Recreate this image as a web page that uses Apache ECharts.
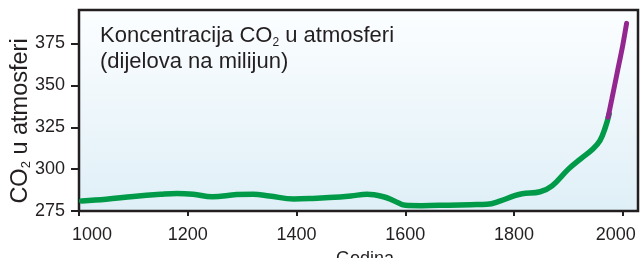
<!DOCTYPE html>
<html>
<head>
<meta charset="utf-8">
<script src="https://cdn.jsdelivr.net/npm/echarts@6/dist/echarts.min.js"></script>
<style>
  html, body { margin: 0; padding: 0; background: #fff; }
  #chart { width: 640px; height: 258px; }
</style>
</head>
<body>
<div id="chart"></div>
<script>
// ice core record (green)
var iceYears = [1005, 1050, 1100, 1150, 1180, 1210, 1245, 1290, 1320, 1350, 1395, 1430, 1460, 1500, 1530, 1560, 1580, 1600, 1630, 1680, 1720, 1750, 1775, 1800, 1815, 1848, 1870, 1900, 1922, 1945, 1958, 1968, 1975]
var iceValues = [281, 282, 283.7, 285, 285.5, 285, 283.5, 284.8, 285, 284, 282.2, 282.5, 283, 284, 285, 283.5, 281, 278.4, 278.2, 278.5, 278.8, 279, 281, 284, 285.3, 286.5, 290, 300, 306, 312, 317, 325, 333]
// direct measurements (purple)
var airYears = [1973, 1980, 1990, 2000, 2007]
var airValues = [331, 342, 358, 374, 387]

var xTicks = [1000, 1200, 1400, 1600, 1800, 2000]
var yTicks = [275, 300, 325, 350, 375]

var textColor = '#231f20'

function pairs (xs, ys) {
  var out = []
  for (var i = 0; i < xs.length; i++) {
    out.push([xs[i], ys[i]])
  }
  return out
}

var chart = echarts.init(document.getElementById('chart'))
chart.setOption({
  animation: false,
  title: {
    text: 'Koncentracija CO{sub|2} u atmosferi\n(dijelova na milijun)',
    left: 95,
    top: 18,
    textStyle: {
      color: textColor,
      fontFamily: 'Liberation Sans',
      fontSize: 22,
      fontWeight: 'normal',
      lineHeight: 26,
      rich: {
        sub: { fontSize: 12, lineHeight: 12, verticalAlign: 'bottom', color: textColor, fontFamily: 'Liberation Sans' }
      }
    }
  },
  grid: {
    left: 79,
    right: 2,
    top: 10,
    bottom: 47,
    outerBoundsMode: 'none',
    containLabel: false,
    show: true,
    borderColor: textColor,
    borderWidth: 2.5,
    backgroundColor: {
      type: 'linear', x: 0, y: 0, x2: 0, y2: 1,
      colorStops: [
        { offset: 0, color: '#fcfeff' },
        { offset: 1, color: '#dfeff7' }
      ]
    }
  },
  xAxis: {
    type: 'value',
    min: 1000,
    max: 2028,
    name: 'Godina',
    nameLocation: 'middle',
    nameGap: 39,
    nameTextStyle: {
      color: textColor,
      fontFamily: 'Liberation Sans',
      fontSize: 18,
      padding: [0, 0, 0, 13]
    },
    axisLine: { show: false },
    splitLine: { show: false },
    axisTick: {
      show: true,
      length: 5,
      customValues: xTicks,
      lineStyle: { color: textColor, width: 2 }
    },
    axisLabel: {
      customValues: xTicks,
      margin: 15,
      color: textColor,
      fontFamily: 'Liberation Sans',
      fontSize: 18,
      formatter: function (v) {
        if (v === 1000) return '{first|' + v + '}'
        if (v === 2000) return '{last|' + v + '}'
        return String(v)
      },
      rich: {
        first: { padding: [0, 0, 0, 26], fontSize: 18, color: textColor, fontFamily: 'Liberation Sans' },
        last: { padding: [0, 14, 0, 0], fontSize: 18, color: textColor, fontFamily: 'Liberation Sans' }
      }
    }
  },
  yAxis: {
    type: 'value',
    min: 275,
    max: 395,
    name: 'CO{sub|2} u atmosferi',
    nameLocation: 'middle',
    nameGap: 46,
    nameMoveOverlap: false,
    nameTextStyle: {
      color: textColor,
      fontFamily: 'Liberation Sans',
      fontSize: 23.5,
      padding: [0, 21, 0, 0],
      rich: {
        sub: { fontSize: 13, lineHeight: 13, verticalAlign: 'bottom', color: textColor, fontFamily: 'Liberation Sans' }
      }
    },
    axisLine: { show: false },
    splitLine: { show: false },
    axisTick: {
      show: true,
      length: 8,
      customValues: yTicks,
      lineStyle: { color: textColor, width: 2 }
    },
    axisLabel: {
      customValues: yTicks,
      margin: 14,
      color: textColor,
      fontFamily: 'Liberation Sans',
      fontSize: 18
    }
  },
  series: [
    {
      name: 'ice',
      type: 'line',
      smooth: 0.4,
      showSymbol: false,
      data: pairs(iceYears, iceValues),
      lineStyle: { color: '#009a49', width: 5.5, cap: 'round' },
      z: 2
    },
    {
      name: 'air',
      type: 'line',
      smooth: 0.3,
      showSymbol: false,
      data: pairs(airYears, airValues),
      lineStyle: { color: '#93278f', width: 5, cap: 'round' },
      z: 3
    }
  ]
})
</script>
</body>
</html>
